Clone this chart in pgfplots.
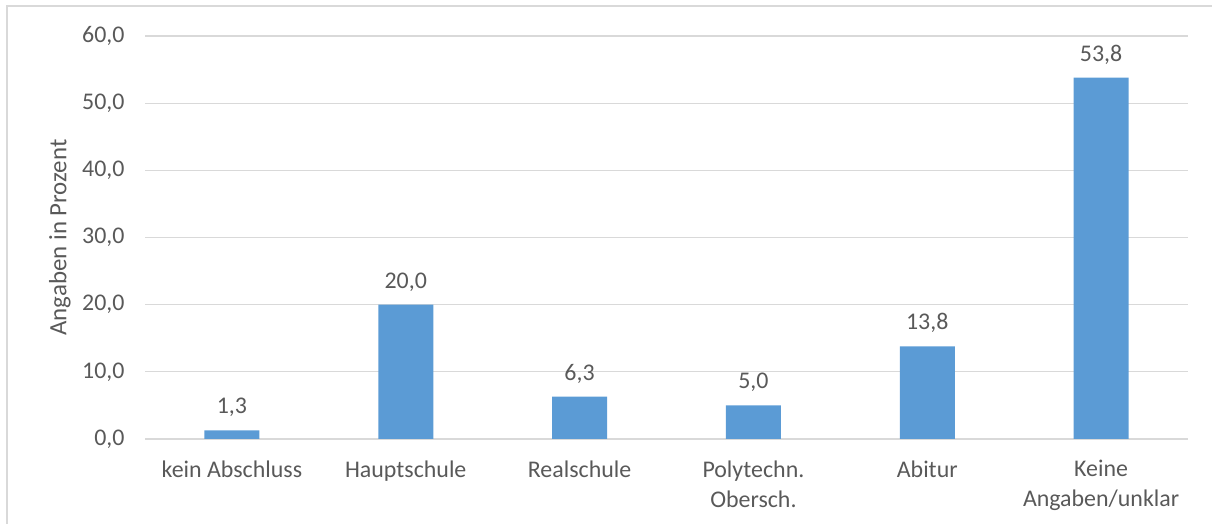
\documentclass[border=0pt]{standalone}
\usepackage{pgfplots}
\pgfplotsset{compat=1.18}
\usepackage{fontspec}
\setmainfont{Carlito}
\definecolor{barblue}{HTML}{5B9BD5}
\definecolor{txtgray}{HTML}{595959}
\definecolor{gridgray}{HTML}{D9D9D9}
\newcommand{\chartfont}{\fontsize{24}{30}\selectfont}
\begin{document}
\begin{tikzpicture}[x=1bp,y=1bp]
\useasboundingbox (0,0) rectangle (1212,524);
% chart frame (cut off at right and bottom)
\draw[gridgray, line width=1.5bp] (7,0) -- (7,518) -- (1212,518);
\begin{axis}[
  at={(145bp,85bp)}, anchor=south west,
  scale only axis, width=1043bp, height=403bp,
  ybar, bar width=55bp,
  xmin=-0.5, xmax=5.5, ymin=0, ymax=60,
  xtick={0,...,5},
  xticklabels={kein Abschluss,Hauptschule,Realschule,{Polytechn.\\Obersch.},Abitur,{Keine\\Angaben/unklar}},
  ytick={0,10,...,60},
  ymajorgrids, grid style={gridgray, line width=1.2bp},
  axis lines*=left,
  y axis line style={draw=none},
  x axis line style={gridgray, line width=1.5bp},
  major tick length=0pt,
  tick align=outside,
  /pgf/number format/assume math mode=true,
  /pgf/number format/.cd, fixed, fixed zerofill, precision=1, use comma, /pgfplots/.cd,
  ticklabel style={font=\chartfont, text=txtgray},
  yticklabel style={xshift=-17bp},
  xticklabel style={align=center, yshift=-18bp},
  ylabel={Angaben in Prozent},
  ylabel style={font=\fontsize{25}{30}\selectfont, text=txtgray, at={(axis description cs:-0.068,0.5)}},
  nodes near coords,
  every node near coord/.append style={font=\chartfont, text=txtgray, yshift=10bp},
]
\addplot[fill=barblue, draw=none] coordinates {(0,1.3) (1,20.0) (2,6.3) (3,5.0) (4,13.8) (5,53.8)};
\end{axis}
\end{tikzpicture}
\end{document}
